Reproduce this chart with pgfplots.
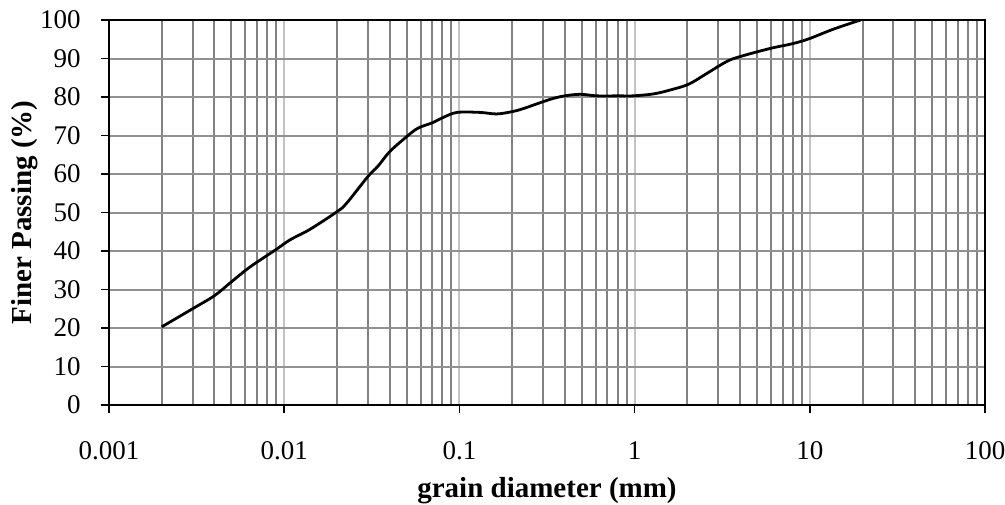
\documentclass[border=0pt,12pt]{standalone}
\usepackage{fontspec}
\setmainfont{Liberation Serif}
\usepackage{pgfplots}
\pgfplotsset{compat=1.18}

\definecolor{gridminor}{RGB}{130,130,130}
\definecolor{gridmajor}{RGB}{195,195,195}
\definecolor{gridy}{RGB}{145,145,145}

\begin{document}
\begin{tikzpicture}
  % picture frame: 1px = 0.5pt
  \path[use as bounding box] (-54.5pt,-49.5pt) rectangle (448pt,202.5pt);
  \begin{axis}[
      at={(0,0)}, anchor=south west,
      scale only axis,
      width=438pt, height=192.5pt,
      xmode=log,
      xmin=0.001, xmax=100,
      ymin=0, ymax=100,
      xtick={0.001,0.01,0.1,1,10,100},
      xticklabels={0.001,0.01,0.1,1,10,100},
      minor xtick={0.002,0.003,0.004,0.005,0.006,0.007,0.008,0.009,
                   0.02,0.03,0.04,0.05,0.06,0.07,0.08,0.09,
                   0.2,0.3,0.4,0.5,0.6,0.7,0.8,0.9,
                   2,3,4,5,6,7,8,9,
                   20,30,40,50,60,70,80,90},
      ytick={0,10,...,100},
      yticklabels={0,10,20,30,40,50,60,70,80,90,100},
      xtick pos=left, ytick pos=left,
      tick align=outside,
      major tick length=4pt,
      minor tick length=0pt,
      tick style={black, line width=0.8pt},
      axis line style={black, line width=1pt},
      grid=both,
      major x grid style={gridmajor, line width=1pt},
      minor x grid style={gridminor, line width=1pt},
      major y grid style={gridy, line width=1pt},
      tick label style={font=\fontsize{13.5}{15}\selectfont},
      xticklabel style={yshift=-10pt},
      yticklabel style={xshift=-6pt},
      xlabel={\textbf{grain diameter (mm)}},
      ylabel={\textbf{Finer Passing (\%)}},
      label style={font=\fontsize{14.5}{17}\selectfont},
      xlabel style={at={([yshift=-43pt]axis description cs:0.5,0)}, anchor=center},
      ylabel style={at={([xshift=-42pt]axis description cs:0,0.5)}, anchor=center},
    ]
    \addplot[black, line width=1.4pt, smooth, tension=0.55, line join=round] coordinates {
      (0.002,20.3) (0.003,25.0) (0.004,28.4) (0.005,32.0) (0.0064,35.9)
      (0.009,40.4) (0.0108,42.9) (0.014,45.6) (0.02,50.2) (0.0227,52.4)
      (0.030,59.3) (0.0344,62.1) (0.040,65.8) (0.050,69.7) (0.058,71.9)
      (0.070,73.3) (0.081,74.7) (0.097,76.0) (0.131,76.0) (0.163,75.6)
      (0.20,76.2) (0.232,77.0) (0.33,79.4) (0.40,80.3) (0.49,80.7)
      (0.61,80.3) (0.82,80.3) (0.98,80.3) (1.28,80.8) (1.59,81.8)
      (2.03,83.3) (2.58,86.1) (3.35,89.2) (4.0,90.5) (5.93,92.6)
      (8.05,93.9) (10,95.2) (13.6,97.6) (19.5,100)
    };
  \end{axis}
\end{tikzpicture}
\end{document}
